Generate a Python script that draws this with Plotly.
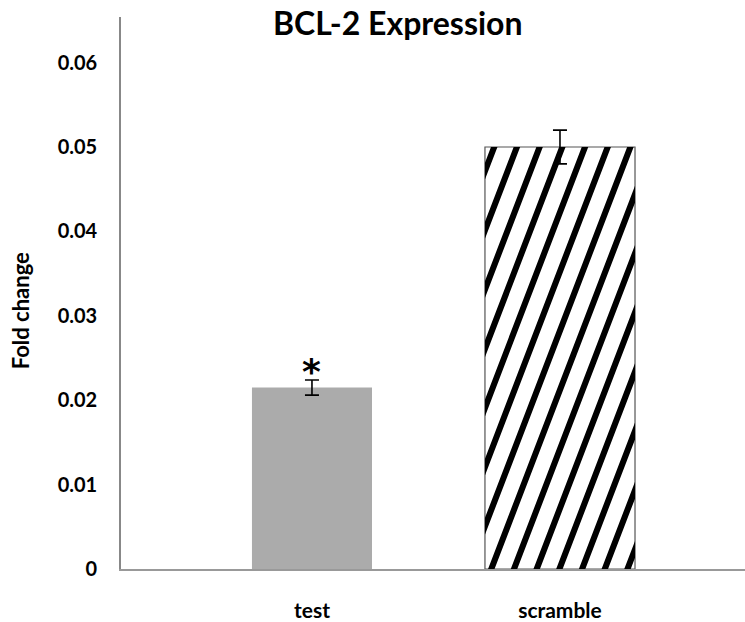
import plotly.graph_objects as go

# ---- data ----
categories = ["test", "scramble"]
values = [0.0215, 0.050]
errors = [0.0009, 0.002]
significance = ["*", ""]
ytick_vals = [0, 0.01, 0.02, 0.03, 0.04, 0.05, 0.06]
ytick_text = ["0", "0.01", "0.02", "0.03", "0.04", "0.05", "0.06"]

# ---- layout / style ----
W, H = 745, 622
ML, MR, MT, MB = 121, 0, 17, 48
XR = [-0.770, 1.746]
YR = [0, 0.0654]
bar_widths = [0.484, 0.605]
FONT = "Lato"
xpos = list(range(len(categories)))

plot_w = W - ML - MR
plot_h = H - MT - MB
px_x = plot_w / (XR[1] - XR[0])
px_y = plot_h / (YR[1] - YR[0])

fig = go.Figure()

# test bar (solid gray)
fig.add_trace(go.Bar(x=[xpos[0]], y=[values[0]], width=[bar_widths[0]],
                     marker=dict(color="#ababab", line=dict(width=0)),
                     showlegend=False, hoverinfo="skip"))
# scramble bar (white with border)
fig.add_trace(go.Bar(x=[xpos[1]], y=[values[1]], width=[bar_widths[1]],
                     marker=dict(color="white", line=dict(color="#555555", width=1.2)),
                     showlegend=False, hoverinfo="skip"))

# hatch stripes for scramble bar, clipped to the bar rectangle
def clip(poly, inside, inter):
    out = []
    n = len(poly)
    for i in range(n):
        cur, prev = poly[i], poly[i - 1]
        if inside(cur):
            if not inside(prev):
                out.append(inter(prev, cur))
            out.append(cur)
        elif inside(prev):
            out.append(inter(prev, cur))
    return out

def ix(v):
    def f(a, b):
        t = (v - a[0]) / (b[0] - a[0])
        return (v, a[1] + t * (b[1] - a[1]))
    return f

def iy(v):
    def f(a, b):
        t = (v - a[1]) / (b[1] - a[1])
        return (a[0] + t * (b[0] - a[0]), v)
    return f

L = xpos[1] - bar_widths[1] / 2
R = xpos[1] + bar_widths[1] / 2
T = values[1]
slope = 0.38 * px_y / px_x          # x data units per y data unit
spacing = 22.7 / px_x
thick = 6.5 / px_x
hx, hy = [], []
start = L - slope * T - spacing + 6 / px_x
xb = start
while xb < R + spacing:
    poly = [(xb, 0), (xb + thick, 0), (xb + thick + slope * T, T), (xb + slope * T, T)]
    poly = clip(poly, lambda p: p[0] >= L, ix(L))
    if poly:
        poly = clip(poly, lambda p: p[0] <= R, ix(R))
    if poly:
        poly = clip(poly, lambda p: p[1] >= 0, iy(0))
    if poly:
        poly = clip(poly, lambda p: p[1] <= T, iy(T))
    if len(poly) >= 3:
        for p in poly + [poly[0]]:
            hx.append(p[0]); hy.append(p[1])
        hx.append(None); hy.append(None)
    xb += spacing
fig.add_trace(go.Scatter(x=hx, y=hy, mode="lines", fill="toself", fillcolor="black",
                         line=dict(width=0, color="black"), showlegend=False, hoverinfo="skip"))

# error bars
fig.add_trace(go.Scatter(x=xpos, y=values, mode="markers",
                         marker=dict(size=1, opacity=0),
                         error_y=dict(type="data", array=errors, visible=True,
                                      color="black", thickness=1.6, width=7),
                         showlegend=False, hoverinfo="skip"))

annotations = []
for xi, v, e, s in zip(xpos, values, errors, significance):
    if s:
        annotations.append(dict(x=xi, y=v + e, xref="x", yref="y", text="<b>" + s + "</b>",
                                showarrow=False, yanchor="bottom", yshift=-14,
                                font=dict(family="DejaVu Sans", size=36, color="black")))

annotations.append(dict(x=(398 - ML) / plot_w, y=(H - MB - 23) / plot_h, xref="paper", yref="paper",
                        text="<b>BCL-2 Expression</b>", showarrow=False,
                        xanchor="center", yanchor="middle",
                        font=dict(family=FONT, size=32, color="black")))
annotations.append(dict(x=(20 - ML) / plot_w, y=(H - MB - 314) / plot_h, xref="paper", yref="paper",
                        text="<b>Fold change</b>", showarrow=False, textangle=-90,
                        xanchor="center", yanchor="middle",
                        font=dict(family=FONT, size=22, color="black")))

fig.update_layout(
    width=W, height=H,
    margin=dict(l=ML, r=MR, t=MT, b=MB, pad=0),
    paper_bgcolor="white", plot_bgcolor="white",
    barmode="overlay",
    annotations=annotations,
    font=dict(family=FONT, color="black"),
)
fig.update_xaxes(range=XR, tickvals=xpos, ticktext=["<b>%s</b>" % c for c in categories],
                 showgrid=False, zeroline=False, showline=True, linecolor="#999999", linewidth=2,
                 ticks="", ticklabelstandoff=22, tickfont=dict(family=FONT, size=21, color="black"))
fig.update_yaxes(range=YR, tickvals=ytick_vals, ticktext=["<b>%s</b>" % t for t in ytick_text],
                 showgrid=False, zeroline=False, showline=True, linecolor="#888888", linewidth=1.6,
                 ticks="", ticklabelstandoff=18, tickfont=dict(family=FONT, size=20, color="black"))

fig.write_html("out.html", config={"displayModeBar": False},
               post_script="document.body.style.margin='0';document.body.style.overflow='hidden';")
